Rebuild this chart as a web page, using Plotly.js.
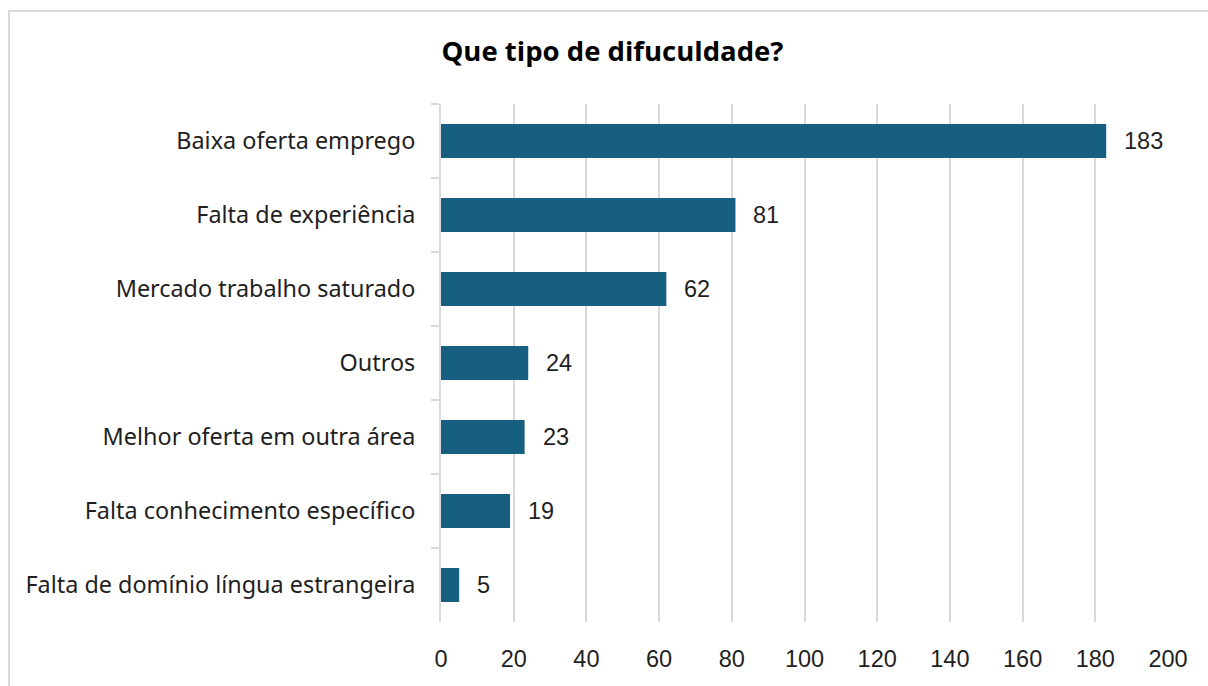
<!DOCTYPE html>
<html>
<head>
<meta charset="utf-8">
<script src="https://cdn.plot.ly/plotly-3.0.1.min.js"></script>
<style>
  html, body { margin: 0; padding: 0; background: #fff; }
  #wrap { position: relative; width: 1208px; height: 686px; }
  #chart { width: 1208px; height: 686px; }
  #frame { position: absolute; left: 8px; top: 10px; right: -2px; bottom: -2px;
           border-left: 2px solid #d9d9d9; border-top: 2px solid #d9d9d9; pointer-events: none; }
</style>
</head>
<body>
<div id="wrap">
  <div id="chart"></div>
  <div id="frame"></div>
</div>
<script>
const categories = [
  "Baixa oferta emprego",
  "Falta de experiência",
  "Mercado trabalho saturado",
  "Outros",
  "Melhor oferta em outra área",
  "Falta conhecimento específico",
  "Falta de domínio língua estrangeira"
];
const values = [183, 81, 62, 24, 23, 19, 5];
const xTicks = [0, 20, 40, 60, 80, 100, 120, 140, 160, 180, 200];

const numFont = { family: "Liberation Sans, Arial, sans-serif", size: 23.5, color: "#1f1f1f" };

const trace = {
  type: "bar",
  orientation: "h",
  y: categories,
  x: values,
  marker: { color: "#175f80" },
  hoverinfo: "x+y"
};

const valueLabels = categories.map((c, i) => ({
  x: values[i],
  y: c,
  xref: "x",
  yref: "y",
  text: String(values[i]),
  showarrow: false,
  xanchor: "left",
  yanchor: "middle",
  xshift: 16,
  font: numFont
}));

const layout = {
  width: 1208,
  height: 686,
  margin: { l: 441, r: 40, t: 104, b: 64 },
  paper_bgcolor: "#ffffff",
  plot_bgcolor: "#ffffff",
  bargap: 0.54,
  showlegend: false,
  annotations: valueLabels,
  title: {
    text: "<b>Que tipo de difuculdade?</b>",
    x: 0.507, xanchor: "center",
    y: 0.925, yanchor: "middle",
    font: { family: "Open Sans, sans-serif", size: 27.5, color: "#000000" }
  },
  xaxis: {
    range: [0, 200],
    tickvals: xTicks,
    ticktext: xTicks.map(String),
    showgrid: true,
    gridcolor: "#d9d9d9",
    gridwidth: 2,
    zeroline: false,
    showline: false,
    ticks: "",
    ticklabelstandoff: 20,
    tickfont: numFont,
    fixedrange: true
  },
  yaxis: {
    autorange: "reversed",
    type: "category",
    showline: true,
    linecolor: "#d9d9d9",
    linewidth: 2,
    ticks: "outside",
    tickson: "boundaries",
    ticklen: 8,
    tickwidth: 2,
    tickcolor: "#d9d9d9",
    ticklabelstandoff: 19,
    showgrid: false,
    tickfont: { family: "Noto Sans, sans-serif", size: 23.4, color: "#1f1f1f" },
    fixedrange: true
  }
};

Plotly.newPlot("chart", [trace], layout, { displayModeBar: false, staticPlot: true });
</script>
</body>
</html>
